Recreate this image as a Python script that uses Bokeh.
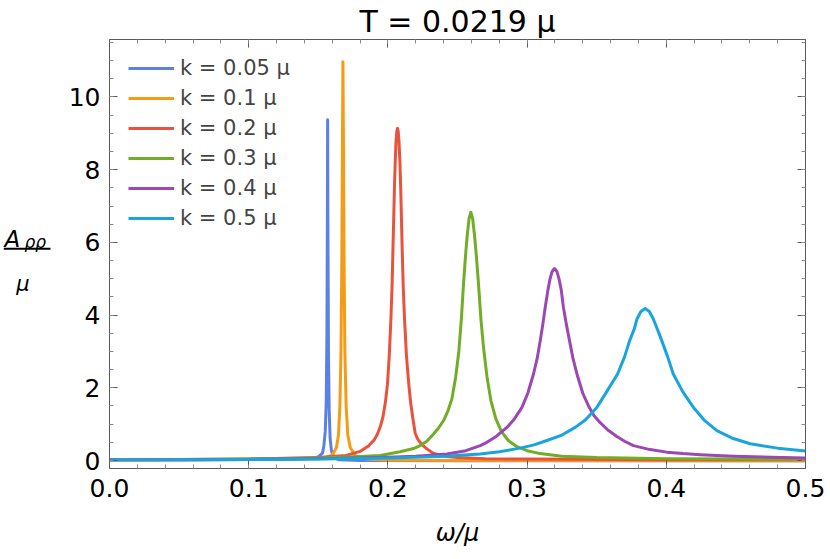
from bokeh.plotting import figure
from bokeh.models import (LinearAxis, SingleIntervalTicker, PrintfTickFormatter,
                          BasicTickFormatter, CustomJSTickFormatter, Range1d, Title)
from bokeh.layouts import row
from bokeh.core.properties import value
from bokeh.embed import file_html
from bokeh.resources import INLINE

FONT = "DejaVu Sans"

# ---------------- texts ----------------
title_text = "T = 0.0219 μ"
x_label = "ω/μ"
y_num = "A"
y_sub = "ρρ"
y_den = "μ"
series_labels = ["k = 0.05 μ", "k = 0.1 μ", "k = 0.2 μ", "k = 0.3 μ", "k = 0.4 μ", "k = 0.5 μ"]
colors = ["#5b80e6", "#f59b15", "#e8533e", "#71ad26", "#9b47b4", "#1aa4de"]

# ---------------- data ----------------
x_k005 = [0.0, 0.05, 0.10, 0.13, 0.145, 0.150, 0.1530, 0.1540, 0.1550, 0.1557, 0.1562, 0.1565,
          0.1567, 0.1569, 0.1573, 0.1578, 0.1585, 0.1595, 0.1615, 0.1650, 0.18, 0.25, 0.35, 0.5]
y_k005 = [0.02, 0.02, 0.03, 0.04, 0.06, 0.10, 0.20, 0.40, 0.80, 1.60, 3.50, 6.50,
          9.37, 6.50, 3.00, 1.40, 0.60, 0.25, 0.08, 0.02, 0.00, -0.01, -0.01, -0.01]

x_k01 = [0.0, 0.05, 0.10, 0.14, 0.155, 0.160, 0.1630, 0.1645, 0.1655, 0.1663, 0.1669, 0.1673,
         0.1677, 0.1681, 0.1685, 0.1691, 0.1700, 0.1712, 0.1730, 0.1770, 0.185, 0.20, 0.30, 0.5]
y_k01 = [0.02, 0.02, 0.03, 0.05, 0.08, 0.15, 0.35, 0.70, 1.50, 3.00, 5.50, 8.50,
         10.97, 8.50, 5.50, 3.00, 1.50, 0.70, 0.35, 0.12, 0.04, 0.01, 0.0, -0.01]

x_k02 = [0.0, 0.05, 0.10, 0.15, 0.17, 0.180, 0.1860, 0.1900, 0.1925, 0.1947, 0.1964, 0.1982,
         0.1997, 0.2010, 0.2022, 0.2030, 0.2036, 0.2042, 0.2047, 0.2053, 0.2058, 0.2064,
         0.2069, 0.2074, 0.2080, 0.2086, 0.2092, 0.2097, 0.2103, 0.2110, 0.2119, 0.2133,
         0.2150, 0.2163, 0.2178, 0.2196, 0.2215, 0.2239, 0.2280, 0.2325, 0.24, 0.25, 0.27,
         0.30, 0.40, 0.5]
y_k02 = [0.02, 0.03, 0.04, 0.08, 0.14, 0.25, 0.40, 0.56, 0.73, 0.95, 1.19, 1.60,
         2.10, 2.90, 3.93, 4.80, 5.76, 6.70, 7.50, 8.25, 8.75, 9.05,
         9.14, 9.05, 8.75, 8.25, 7.50, 6.70, 5.76, 4.80, 3.93, 2.90,
         2.10, 1.60, 1.19, 0.75, 0.58, 0.46, 0.32, 0.20, 0.12, 0.08, 0.05,
         0.04, 0.02, 0.02]

x_k03 = [0.0, 0.05, 0.10, 0.15, 0.18, 0.1945, 0.2088, 0.2184, 0.2232, 0.2280, 0.2328, 0.2365,
         0.2400, 0.2430, 0.2460, 0.2487, 0.2510, 0.2528, 0.2543, 0.2557, 0.2570, 0.2583,
         0.2596, 0.2609, 0.2622, 0.2636, 0.2651, 0.2668, 0.2687, 0.2712, 0.2740, 0.2775,
         0.2815, 0.2865, 0.2927, 0.3000, 0.3094, 0.325, 0.35, 0.40, 0.45, 0.5]
y_k03 = [0.02, 0.03, 0.04, 0.07, 0.11, 0.14, 0.24, 0.33, 0.41, 0.53, 0.73, 0.90,
         1.10, 1.35, 1.70, 2.30, 3.02, 3.90, 4.85, 5.60, 6.20, 6.65,
         6.83, 6.65, 6.20, 5.60, 4.85, 3.90, 3.10, 2.30, 1.65, 1.15,
         0.80, 0.55, 0.38, 0.27, 0.19, 0.12, 0.08, 0.05, 0.04, 0.03]

x_k04 = [0.0, 0.05, 0.10, 0.15, 0.18, 0.20, 0.22, 0.2424, 0.255, 0.2663, 0.2711, 0.2780,
         0.2855, 0.2910, 0.2963, 0.3005, 0.3046, 0.3072, 0.3094, 0.3113, 0.3130, 0.3150,
         0.3165, 0.3180, 0.3197, 0.3214, 0.3229, 0.3245, 0.3261, 0.3282, 0.3305, 0.3330,
         0.3358, 0.3400, 0.3441, 0.3480, 0.3525, 0.3580, 0.3645, 0.3700, 0.3764, 0.3884,
         0.4003, 0.412, 0.4243, 0.4482, 0.475, 0.5]
y_k04 = [0.02, 0.02, 0.03, 0.05, 0.07, 0.09, 0.12, 0.18, 0.26, 0.41, 0.50, 0.67,
         0.91, 1.15, 1.46, 1.85, 2.38, 2.80, 3.29, 3.75, 4.21, 4.70,
         5.00, 5.20, 5.28, 5.20, 5.00, 4.70, 4.21, 3.75, 3.29, 2.80,
         2.38, 1.85, 1.50, 1.24, 1.04, 0.84, 0.66, 0.53, 0.41, 0.30,
         0.23, 0.19, 0.16, 0.12, 0.09, 0.07]

x_k05 = [0.0, 0.05, 0.10, 0.15, 0.18, 0.20, 0.22, 0.2424, 0.255, 0.2663, 0.280, 0.295,
         0.305, 0.3142, 0.325, 0.3346, 0.342, 0.3501, 0.357, 0.3650, 0.370, 0.3736,
         0.377, 0.3790, 0.3818, 0.3848, 0.3878, 0.3906, 0.3935, 0.3968, 0.401, 0.4050,
         0.412, 0.4195, 0.427, 0.4363, 0.447, 0.4603, 0.48, 0.5]
y_k05 = [0.02, 0.02, 0.03, 0.04, 0.055, 0.07, 0.09, 0.12, 0.15, 0.18, 0.24, 0.34,
         0.43, 0.55, 0.70, 0.91, 1.12, 1.46, 1.88, 2.38, 2.85, 3.29,
         3.62, 3.90, 4.10, 4.18, 4.10, 3.90, 3.62, 3.29, 2.85, 2.38,
         1.88, 1.46, 1.12, 0.82, 0.62, 0.46, 0.34, 0.26]

xs = [x_k005, x_k01, x_k02, x_k03, x_k04, x_k05]
ys = [y_k005, y_k01, y_k02, y_k03, y_k04, y_k05]

x_ticks_interval = 0.1
y_ticks_interval = 2

# ---------------- main figure ----------------
p = figure(width=772, height=559, x_range=Range1d(0, 0.5), y_range=Range1d(-0.22, 11.58),
           toolbar_location=None, output_backend="svg",
           x_axis_location=None, y_axis_location=None,
           min_border_left=51, min_border_right=25, min_border_top=38, min_border_bottom=91)
p.outline_line_color = None
p.xgrid.visible = False
p.ygrid.visible = False
p.background_fill_color = "white"
p.border_fill_color = "white"

p.title = Title(text=title_text, align="center", text_font=FONT, text_font_size="30px",
                text_font_style="normal", text_color="black", standoff=2, offset=0)

AX = "#5a5a5a"
MINOR = "#8a8a8a"


def style_axis(ax, labels):
    ax.axis_line_color = AX
    ax.axis_line_width = 1
    ax.major_tick_line_color = AX
    ax.minor_tick_line_color = MINOR
    ax.major_tick_in = 8
    ax.major_tick_out = 0
    ax.minor_tick_in = 4
    ax.minor_tick_out = 0
    if labels:
        ax.major_label_text_font = FONT
        ax.major_label_text_font_size = "25px"
        ax.major_label_text_color = "black"
    else:
        ax.formatter = CustomJSTickFormatter(code="return ''")
        ax.major_label_text_font_size = "0px"
        ax.major_label_standoff = 0


xb = LinearAxis(ticker=SingleIntervalTicker(interval=x_ticks_interval, num_minor_ticks=5),
                formatter=PrintfTickFormatter(format="%.1f"))
style_axis(xb, True)
xb.major_label_standoff = 10
xb.axis_label = x_label
xb.axis_label_text_font = FONT
xb.axis_label_text_font_size = "24px"
xb.axis_label_text_font_style = "italic"
xb.axis_label_text_color = "black"
xb.axis_label_standoff = 19
p.add_layout(xb, "below")

xt = LinearAxis(ticker=SingleIntervalTicker(interval=x_ticks_interval, num_minor_ticks=5))
style_axis(xt, False)
p.add_layout(xt, "above")

yl = LinearAxis(ticker=SingleIntervalTicker(interval=y_ticks_interval, num_minor_ticks=4),
                formatter=BasicTickFormatter())
style_axis(yl, True)
yl.major_label_standoff = 9
p.add_layout(yl, "left")

yr = LinearAxis(ticker=SingleIntervalTicker(interval=y_ticks_interval, num_minor_ticks=4))
style_axis(yr, False)
p.add_layout(yr, "right")

for x, y, c, lab in zip(xs, ys, colors, series_labels):
    p.line(x, y, line_color=c, line_width=3, line_join="round", legend_label=lab)

lg = p.legend[0]
lg.location = (19, 235)
lg.padding = 0
lg.margin = 0
lg.spacing = 0
lg.glyph_width = 46
lg.glyph_height = 30
lg.label_height = 30
lg.label_standoff = 6
lg.label_text_font = FONT
lg.label_text_font_size = "21px"
lg.border_line_color = None
lg.background_fill_alpha = 0

# ---------------- y-label panel (frame is aligned with the main frame: 38..468) ----------------
q = figure(width=58, height=559, x_range=Range1d(0, 58), y_range=Range1d(468, 38),
           toolbar_location=None, output_backend="svg", min_border=0,
           x_axis_location=None, y_axis_location=None)
q.outline_line_color = None
q.xgrid.visible = False
q.ygrid.visible = False
q.text(x=[4], y=[237.5], text=[y_num], text_font=value(FONT), text_font_size="23px",
       text_font_style="italic", text_align="left", text_baseline="alphabetic", text_color="black")
q.text(x=[24], y=[240.5], text=[y_sub], text_font=value(FONT), text_font_size="17px",
       text_font_style="italic", text_align="left", text_baseline="alphabetic", text_color="black")
q.segment(x0=[3.3], y0=[247.7], x1=[50], y1=[247.7], line_color="black", line_width=2)
q.text(x=[22.5], y=[283.5], text=[y_den], text_font=value(FONT), text_font_size="21px",
       text_font_style="italic", text_align="center", text_baseline="alphabetic", text_color="black")

layout = row(q, p)
open("out.html", "w").write(file_html(layout, INLINE))
